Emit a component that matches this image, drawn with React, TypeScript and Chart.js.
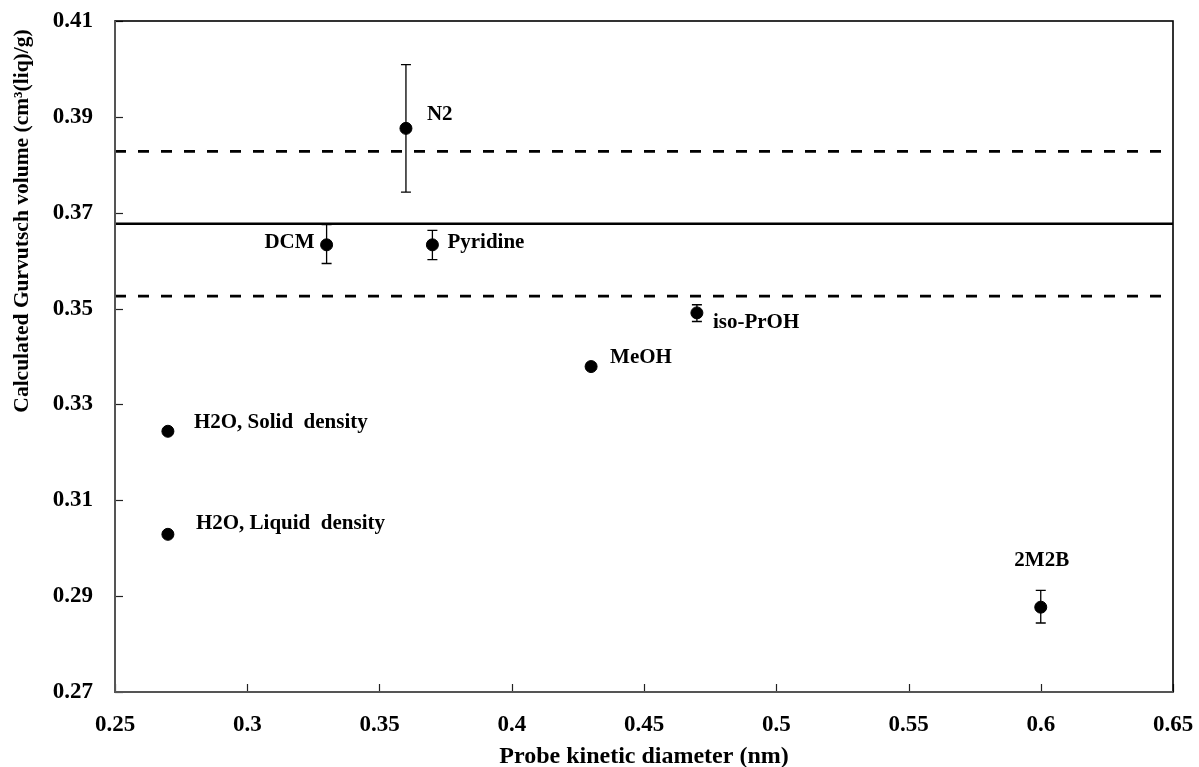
import React, { useEffect, useRef } from "react";
import { Chart, registerables } from "chart.js";

Chart.register(...registerables);

// ---- data ----
const probeNames = [
  "N2",
  "DCM",
  "Pyridine",
  "iso-PrOH",
  "MeOH",
  "H2O, Solid  density",
  "H2O, Liquid  density",
  "2M2B",
];
const kineticDiameter = [0.36, 0.33, 0.37, 0.47, 0.43, 0.27, 0.27, 0.6];
const gurvitschVolume = [0.3876, 0.3633, 0.3633, 0.3491, 0.3379, 0.3244, 0.3029, 0.2877];
const errorUpper = [0.4009, 0.3675, 0.3663, 0.3508, 0.3385, 0.3249, 0.3033, 0.2912];
const errorLower = [0.3743, 0.3594, 0.3602, 0.3473, 0.3373, 0.3239, 0.3025, 0.2844];
const meanVolume = [0.3677, 0.3677];
const upperBand = [0.3828, 0.3828];
const lowerBand = [0.3526, 0.3526];
const lineXRange = [0.25, 0.65];
const xTickLabels = ["0.25", "0.3", "0.35", "0.4", "0.45", "0.5", "0.55", "0.6", "0.65"];
const yTickLabels = ["0.27", "0.29", "0.31", "0.33", "0.35", "0.37", "0.39", "0.41"];
const xTitle = "Probe kinetic diameter (nm)";
const yTitle = "Calculated Gurvutsch volume (cm\u00B3(liq)/g)";

// ---- label styling (offsets in px from each point) ----
const labelStyle: { dx: number; dy: number; align: CanvasTextAlign }[] = [
  { dx: 21, dy: -14, align: "left" },
  { dx: -12, dy: -2, align: "right" },
  { dx: 15, dy: -2, align: "left" },
  { dx: 16, dy: 10, align: "left" },
  { dx: 19, dy: -9, align: "left" },
  { dx: 26, dy: -9, align: "left" },
  { dx: 28, dy: -11, align: "left" },
  { dx: 1, dy: -47, align: "center" },
];

const FONT_FAMILY = "'Liberation Serif', 'Times New Roman', serif";

const overlayPlugin = {
  id: "overlay",
  beforeDatasetsDraw(chart: any) {
    const { ctx } = chart;
    const xs = chart.scales.x;
    const ys = chart.scales.y;
    ctx.save();
    ctx.strokeStyle = "#000";
    ctx.lineWidth = 1.3;
    for (let i = 0; i < kineticDiameter.length; i++) {
      const px = xs.getPixelForValue(kineticDiameter[i]);
      const top = ys.getPixelForValue(errorUpper[i]);
      const bot = ys.getPixelForValue(errorLower[i]);
      ctx.beginPath();
      ctx.moveTo(px, top);
      ctx.lineTo(px, bot);
      ctx.moveTo(px - 5, top);
      ctx.lineTo(px + 5, top);
      ctx.moveTo(px - 5, bot);
      ctx.lineTo(px + 5, bot);
      ctx.stroke();
    }
    ctx.restore();
  },
  afterDraw(chart: any) {
    const { ctx, chartArea } = chart;
    const xs = chart.scales.x;
    const ys = chart.scales.y;
    ctx.save();
    // inward ticks
    ctx.strokeStyle = "#222";
    ctx.lineWidth = 1.2;
    xs.ticks.forEach((t: any) => {
      const p = Math.round(xs.getPixelForValue(t.value)) + 0.5;
      ctx.beginPath();
      ctx.moveTo(p, chartArea.bottom);
      ctx.lineTo(p, chartArea.bottom - 8);
      ctx.stroke();
    });
    ys.ticks.forEach((t: any) => {
      const p = Math.round(ys.getPixelForValue(t.value)) + 0.5;
      ctx.beginPath();
      ctx.moveTo(chartArea.left, p);
      ctx.lineTo(chartArea.left + 8, p);
      ctx.stroke();
    });
    // frame
    ctx.strokeStyle = "#000";
    ctx.lineWidth = 1.6;
    ctx.strokeRect(chartArea.left, chartArea.top, chartArea.right - chartArea.left, chartArea.bottom - chartArea.top);
    ctx.strokeStyle = "#555";
    ctx.lineWidth = 2;
    ctx.beginPath();
    ctx.moveTo(chartArea.left, chartArea.top);
    ctx.lineTo(chartArea.left, chartArea.bottom);
    ctx.lineTo(chartArea.right, chartArea.bottom);
    ctx.stroke();
    // point labels
    ctx.fillStyle = "#000";
    ctx.font = `bold 21px ${FONT_FAMILY}`;
    ctx.textBaseline = "middle";
    for (let i = 0; i < probeNames.length; i++) {
      const px = xs.getPixelForValue(kineticDiameter[i]);
      const py = ys.getPixelForValue(gurvitschVolume[i]);
      const s = labelStyle[i];
      ctx.textAlign = s.align;
      ctx.fillText(probeNames[i], px + s.dx, py + s.dy);
    }
    // y axis title
    ctx.translate(22, 221);
    ctx.rotate(-Math.PI / 2);
    ctx.textAlign = "center";
    ctx.font = `bold 21.5px ${FONT_FAMILY}`;
    ctx.fillText(yTitle, 0, 0);
    ctx.restore();
  },
};

export default function App() {
  const canvasRef = useRef<HTMLCanvasElement | null>(null);

  useEffect(() => {
    if (!canvasRef.current) return;
    const tickFont = { family: FONT_FAMILY, size: 23, weight: "bold" as const };
    const chart = new Chart(canvasRef.current, {
      type: "scatter",
      data: {
        datasets: [
          {
            label: "Probes",
            data: kineticDiameter.map((x, i) => ({ x, y: gurvitschVolume[i] })),
            backgroundColor: "#000",
            borderColor: "#000",
            pointRadius: 6,
            pointHoverRadius: 6,
            order: 0,
          },
          {
            type: "line",
            label: "Mean",
            data: lineXRange.map((x, i) => ({ x, y: meanVolume[i] })),
            borderColor: "#000",
            borderWidth: 2.6,
            pointRadius: 0,
            showLine: true,
            order: 1,
          },
          {
            type: "line",
            label: "Upper",
            data: lineXRange.map((x, i) => ({ x, y: upperBand[i] })),
            borderColor: "#000",
            borderWidth: 2.8,
            borderDash: [11, 12],
            pointRadius: 0,
            showLine: true,
            order: 1,
          },
          {
            type: "line",
            label: "Lower",
            data: lineXRange.map((x, i) => ({ x, y: lowerBand[i] })),
            borderColor: "#000",
            borderWidth: 2.8,
            borderDash: [11, 12],
            pointRadius: 0,
            showLine: true,
            order: 1,
          },
        ] as any,
      },
      options: {
        animation: false,
        responsive: false,
        devicePixelRatio: 1,
        layout: { padding: { left: 0, top: 21, right: 26, bottom: 0 } },
        plugins: {
          legend: { display: false },
          tooltip: { enabled: false },
        },
        scales: {
          x: {
            type: "linear",
            min: 0.25,
            max: 0.65,
            afterFit: (s: any) => {
              s.height = 75;
              s.paddingLeft = 0;
              s.paddingRight = 0;
            },
            afterBuildTicks: (s: any) => {
              s.ticks = xTickLabels.map((l) => ({ value: parseFloat(l) }));
            },
            ticks: {
              callback: (_v: any, i: number) => xTickLabels[i],
              font: tickFont,
              color: "#000",
              padding: 19,
              maxRotation: 0,
              autoSkip: false,
            },
            grid: { display: false, drawTicks: false },
            border: { display: false },
            title: {
              display: true,
              text: xTitle,
              font: { family: FONT_FAMILY, size: 24, weight: "bold" as const, lineHeight: 0.85 },
              color: "#000",
              padding: { top: 0, bottom: 0 },
            },
          },
          y: {
            type: "linear",
            min: 0.27,
            max: 0.41,
            afterFit: (s: any) => {
              s.width = 115;
              s.paddingTop = 0;
              s.paddingBottom = 0;
            },
            afterBuildTicks: (s: any) => {
              s.ticks = yTickLabels.map((l) => ({ value: parseFloat(l) }));
            },
            ticks: {
              callback: (_v: any, i: number) => yTickLabels[i],
              font: tickFont,
              color: "#000",
              padding: 22,
              autoSkip: false,
            },
            grid: { display: false, drawTicks: false },
            border: { display: false },
            title: { display: false },
          },
        },
      },
      plugins: [overlayPlugin],
    });
    return () => chart.destroy();
  }, []);

  return (
    <div style={{ position: "fixed", left: 0, top: 0, width: 1199, height: 767, background: "#fff" }}>
      <canvas ref={canvasRef} width={1199} height={767} style={{ display: "block" }} />
    </div>
  );
}
